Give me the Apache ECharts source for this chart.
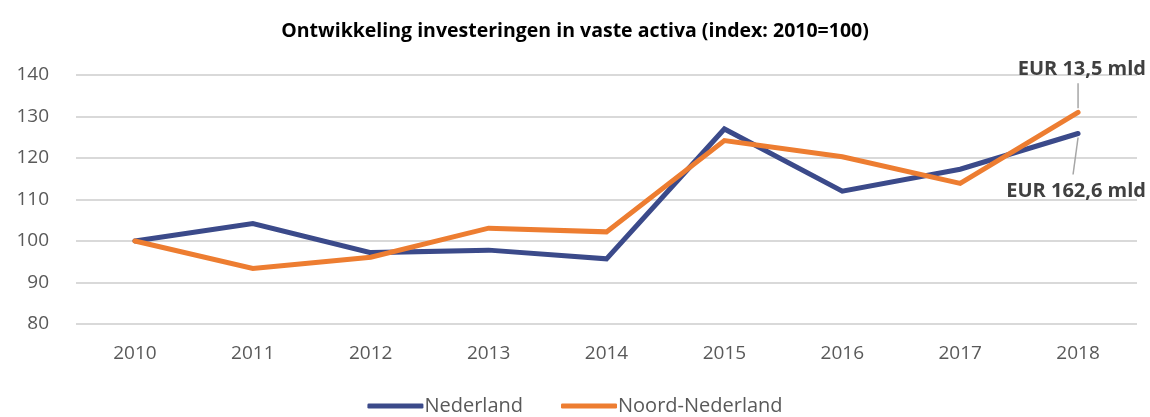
<!DOCTYPE html>
<html>
<head>
<meta charset="utf-8">
<script src="https://cdn.jsdelivr.net/npm/echarts@6/dist/echarts.min.js"></script>
<style>
  html, body { margin: 0; padding: 0; background: #fff; }
  #chart { width: 1150px; height: 417px; }
</style>
</head>
<body>
<div id="chart"></div>
<script>
const years = ['2010', '2011', '2012', '2013', '2014', '2015', '2016', '2017', '2018'];
const nederland = [100, 104.2, 97.2, 97.8, 95.7, 127, 112, 117.3, 125.9];
const noordNederland = [100, 93.4, 96.1, 103.1, 102.2, 124.2, 120.3, 113.9, 131];
const endLabels = ['EUR 13,5 mld', 'EUR 162,6 mld'];

const font = '"Open Sans", "Noto Sans", sans-serif';
const blue = '#3b4a8a';
const orange = '#ed7d31';

const myChart = echarts.init(document.getElementById('chart'));

const option = {
  animation: false,
  title: {
    text: 'Ontwikkeling investeringen in vaste activa (index: 2010=100)',
    left: 'center',
    top: 16,
    textStyle: { fontFamily: font, fontSize: 19.5, fontWeight: 'bold', color: '#000' }
  },
  grid: { left: 76, right: 13, top: 75, bottom: 93 },
  legend: {
    bottom: -4,
    left: 'center',
    itemWidth: 56,
    itemHeight: 5,
    itemGap: 38,
    icon: 'roundRect',
    textStyle: { fontFamily: font, fontSize: 20, color: '#595959', padding: [0, 0, 0, -4] },
    data: ['Nederland', 'Noord-Nederland']
  },
  xAxis: {
    type: 'category',
    data: years,
    boundaryGap: true,
    axisLine: { show: false },
    axisTick: { show: false },
    axisLabel: { fontFamily: font, fontSize: 19, color: '#595959', margin: 20 }
  },
  yAxis: {
    type: 'value',
    min: 80,
    max: 140,
    interval: 10,
    axisLine: { show: false },
    axisTick: { show: false },
    axisLabel: { fontFamily: font, fontSize: 19, color: '#595959', margin: 27 },
    splitLine: { lineStyle: { color: '#d9d9d9', width: 2 } }
  },
  series: [
    {
      name: 'Nederland',
      type: 'line',
      data: nederland,
      symbol: 'none',
      lineStyle: { color: blue, width: 5, cap: 'round', join: 'miter' },
      itemStyle: { color: blue }
    },
    {
      name: 'Noord-Nederland',
      type: 'line',
      data: noordNederland,
      symbol: 'none',
      lineStyle: { color: orange, width: 5, cap: 'round', join: 'miter' },
      itemStyle: { color: orange }
    }
  ]
};

myChart.setOption(option);

// annotations at the 2018 end points, positioned through the chart scales
const last = years.length - 1;
const pOrange = myChart.convertToPixel({ seriesIndex: 1 }, [last, noordNederland[last]]);
const pBlue = myChart.convertToPixel({ seriesIndex: 0 }, [last, nederland[last]]);

myChart.setOption({
  graphic: [
    {
      type: 'line',
      shape: { x1: pOrange[0], y1: pOrange[1] - 29, x2: pOrange[0], y2: pOrange[1] - 4 },
      style: { stroke: '#a6a6a6', lineWidth: 1.5 }
    },
    {
      type: 'text',
      x: 1146, y: pOrange[1] - 33,
      style: {
        text: endLabels[0], align: 'right', verticalAlign: 'bottom',
        font: 'bold 20px ' + font, fill: '#404040'
      }
    },
    {
      type: 'line',
      shape: { x1: pBlue[0], y1: pBlue[1] + 4, x2: pBlue[0] - 5, y2: pBlue[1] + 41 },
      style: { stroke: '#a6a6a6', lineWidth: 1.5 }
    },
    {
      type: 'text',
      x: 1146, y: pBlue[1] + 48,
      style: {
        text: endLabels[1], align: 'right', verticalAlign: 'top',
        font: 'bold 20px ' + font, fill: '#404040'
      }
    }
  ]
});

window.addEventListener('resize', () => myChart.resize());
</script>
</body>
</html>
